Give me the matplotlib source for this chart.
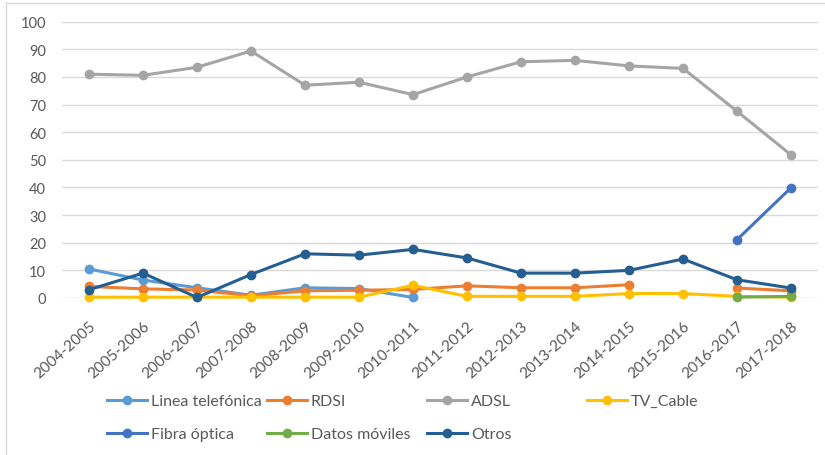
import numpy as np
import matplotlib
matplotlib.use("Agg")
import matplotlib.pyplot as plt
from matplotlib.lines import Line2D

plt.rcParams['font.family'] = ['Lato', 'DejaVu Sans']

nan = np.nan
categories = ["2004-2005", "2005-2006", "2006-2007", "2007-2008", "2008-2009",
              "2009-2010", "2010-2011", "2011-2012", "2012-2013", "2013-2014",
              "2014-2015", "2015-2016", "2016-2017", "2017-2018"]

linea_telefonica = [10.5, 6.5, 3.7, 1.0, 3.7, 3.4, 0.2, nan, nan, nan, nan, nan, nan, nan]
rdsi = [4.2, 3.3, 2.9, 0.8, 2.6, 2.8, 3.1, 4.4, 3.7, 3.7, 4.8, nan, 3.6, 2.6]
adsl = [81.0, 80.6, 83.5, 89.4, 77.0, 78.1, 73.6, 80.0, 85.5, 86.0, 84.0, 83.1, 67.6, 51.8]
tv_cable = [0.3, 0.3, 0.3, 0.3, 0.3, 0.3, 4.6, 0.6, 0.6, 0.6, 1.6, 1.6, 0.6, 0.3]
fibra_optica = [nan] * 12 + [21.1, 39.9]
datos_moviles = [nan] * 12 + [0.3, 0.6]
otros = [3.0, 9.0, 0.2, 8.5, 16.0, 15.5, 17.6, 14.5, 9.0, 9.0, 10.0, 14.1, 6.6, 3.6]

series_names = ["Linea telefónica", "RDSI", "ADSL", "TV_Cable",
                "Fibra óptica", "Datos móviles", "Otros"]
series_values = [linea_telefonica, rdsi, adsl, tv_cable, fibra_optica, datos_moviles, otros]
colors = ["#5B9BD5", "#ED7D31", "#A5A5A5", "#FFC000", "#4472C4", "#70AD47", "#255E91"]

W, H = 825, 456
fig = plt.figure(figsize=(W / 100, H / 100), dpi=100)
ax = fig.add_axes([62 / W, 1 - 299 / H, (818 - 62) / W, (299 - 22.7) / H])

x = np.arange(len(categories))
text_col = "#595959"
lw = 2.2
ms = 6

handles = []
for name, vals, c in zip(series_names, series_values, colors):
    ax.plot(x, vals, color=c, lw=lw, marker='o', ms=ms, mec=c, mfc=c,
            solid_capstyle='round', solid_joinstyle='round', zorder=3, clip_on=False)
    handles.append(Line2D([], [], color=c, lw=lw, marker='o', ms=ms, mec=c, mfc=c))

ax.set_xlim(-0.5, len(categories) - 0.5)
ax.set_ylim(0, 100)
ax.set_yticks(np.arange(0, 101, 10))
ax.grid(axis='y', color='#D9D9D9', lw=1)
ax.set_axisbelow(True)
for s in ax.spines.values():
    s.set_visible(False)
ax.tick_params(axis='both', length=0, colors=text_col)
ax.tick_params(axis='y', pad=11.5, labelsize=10.5)
ax.set_xticks(x)
ax.set_xticklabels(categories, rotation=42, ha='right', rotation_mode='anchor')
ax.tick_params(axis='x', pad=15, labelsize=11)

# Legend entries (grid of 4 columns x 2 rows)
fs = 11.5
fs_px = fs * 100 / 72
positions = {0: (107, 402), 1: (267, 402), 2: (427, 402), 3: (587, 402),
             4: (107, 435), 5: (267, 435), 6: (427, 435)}
for i, (px, py) in positions.items():
    fig.legend([handles[i]], [series_names[i]],
               loc='center left', bbox_to_anchor=(px / W, 1 - py / H),
               frameon=False, fontsize=fs, handlelength=40 / fs_px,
               handletextpad=4 / fs_px, borderpad=0, borderaxespad=0,
               labelcolor=text_col)

# Outer chart border
fig.add_artist(Line2D([6 / W, 1], [1 - 4 / H, 1 - 4 / H], color='#D9D9D9', lw=1))
fig.add_artist(Line2D([6 / W, 6 / W], [0, 1 - 4 / H], color='#D9D9D9', lw=1))

fig.savefig("out.png", dpi=100)
